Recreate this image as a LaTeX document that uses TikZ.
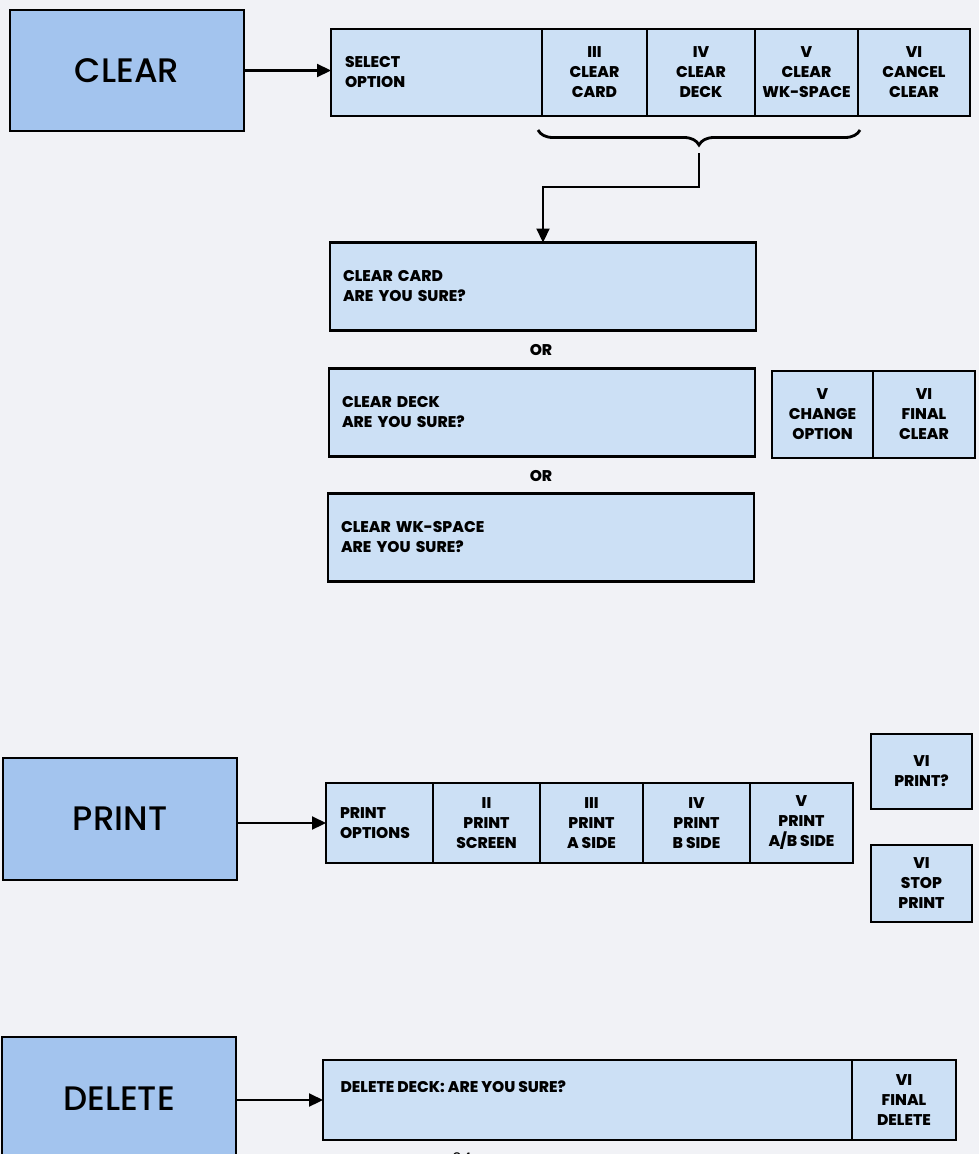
\documentclass[tikz,border=0pt]{standalone}
\usepackage{fontspec}
\setmainfont{Poppins}
\newfontfamily\keyfont{Poppins Medium}
\newfontfamily\cellfont{Poppins ExtraBold}
\usetikzlibrary{positioning,arrows.meta,decorations.pathreplacing}
\definecolor{paper}{RGB}{241,242,246}
\definecolor{keyblue}{RGB}{163,196,238}
\definecolor{cellblue}{RGB}{204,224,245}

\begin{document}
\begin{tikzpicture}[x=1pt, y=1pt,
    keybox/.style={draw, line width=2.6pt, fill=keyblue, minimum width=234pt, inner sep=0pt, outer sep=0pt, font=\keyfont\fontsize{34}{40}\selectfont},
    cell/.style={draw, line width=1.3pt, fill=cellblue, inner sep=0pt, outer sep=0pt, align=center, font=\cellfont\fontsize{15.5}{20}\selectfont},
    leftcell/.style={cell, align=left, inner xsep=14pt},
    qbox/.style={leftcell, line width=2.6pt, text width=400pt, inner xsep=13pt, minimum height=88pt},
    frame/.style={draw, line width=2.6pt},
    arrow/.style={line width=2.2pt, -{Triangle[length=14pt,width=13pt]}},
    ortext/.style={font=\cellfont\fontsize{15.5}{20}\selectfont}]

    % 纸面与边界
    \fill[paper] (0,0) rectangle (979,-1154);
    \useasboundingbox (0,0) rectangle (979,-1154);

    % CLEAR 键与选项条
    \node[keybox, minimum height=121pt] (clear) at (127,-70.5) {CLEAR};
    \node[leftcell, text width=183pt, minimum height=87pt, anchor=north west] (sel0) at (331,-29) {SELECT\\OPTION};
    \node[cell, minimum width=105pt, minimum height=87pt, right=0pt of sel0] (sel3) {III\\CLEAR\\CARD};
    \node[cell, minimum width=108pt, minimum height=87pt, right=0pt of sel3] (sel4) {IV\\CLEAR\\DECK};
    \node[cell, minimum width=103pt, minimum height=87pt, right=0pt of sel4] (sel5) {V\\CLEAR\\WK-SPACE};
    \node[cell, minimum width=112pt, minimum height=87pt, right=0pt of sel5] (sel6) {VI\\CANCEL\\CLEAR};
    \draw[frame] (sel0.north west) rectangle (sel6.south east);
    \draw[arrow] (clear.east) -- (clear.east -| sel0.west);

    % 大括号与下行箭头
    \draw[decorate, decoration={brace, mirror, amplitude=15pt}, line width=2.8pt]
        ([xshift=-4pt, yshift=-14pt]sel3.south west) -- ([xshift=2pt, yshift=-14pt]sel5.south east);
    \coordinate (bracetip) at (699,-153);

    % 三个确认框
    \node[qbox] (cardq) at (543,-286.5) {CLEAR CARD\\ARE YOU SURE?};
    \node[ortext] (or1) at (541,-350) {OR};
    \node[qbox] (deckq) at (542,-412.5) {CLEAR DECK\\ARE YOU SURE?};
    \node[ortext] (or2) at (541,-476) {OR};
    \node[qbox] (spaceq) at (541,-537.5) {CLEAR WK-SPACE\\ARE YOU SURE?};
    \draw[arrow] (bracetip) -- ++(0,-34) -| (cardq.north);

    % V / VI 选项
    \node[cell, minimum width=101pt, minimum height=87pt, anchor=north west] (chg5) at (772,-371) {V\\CHANGE\\OPTION};
    \node[cell, minimum width=102pt, minimum height=87pt, right=0pt of chg5] (fin6) {VI\\FINAL\\CLEAR};
    \draw[frame] (chg5.north west) rectangle (fin6.south east);

    % PRINT 键与选项条
    \node[keybox, minimum height=122pt] (print) at (120,-819) {PRINT};
    \node[leftcell, text width=79pt, minimum height=80pt, anchor=north west] (pr0) at (326,-783) {PRINT\\OPTIONS};
    \node[cell, minimum width=107pt, minimum height=80pt, right=0pt of pr0] (pr2) {II\\PRINT\\SCREEN};
    \node[cell, minimum width=103pt, minimum height=80pt, right=0pt of pr2] (pr3) {III\\PRINT\\A SIDE};
    \node[cell, minimum width=107pt, minimum height=80pt, right=0pt of pr3] (pr4) {IV\\PRINT\\B SIDE};
    \node[cell, minimum width=103pt, minimum height=80pt, right=0pt of pr4] (pr5) {V\\PRINT\\A/B SIDE};
    \draw[frame] (pr0.north west) rectangle (pr5.south east);
    \draw[arrow] (print.east |- pr0.west) -- (pr0.west);

    % 打印中的两个框
    \node[cell, line width=2.6pt, minimum width=101pt, minimum height=75pt] (prq) at (921.5,-771.5) {VI\\PRINT?};
    \node[cell, line width=2.6pt, minimum width=101pt, minimum height=77pt] (stop) at (921.5,-883.5) {VI\\STOP\\PRINT};

    % DELETE 键与确认条
    \node[keybox, minimum height=124pt] (delete) at (119,-1099) {DELETE};
    \node[cell, minimum width=529pt, minimum height=80pt, anchor=north west] (del0) at (323,-1060) {};
    \node[cell, minimum width=104pt, minimum height=80pt, right=0pt of del0] (del6) {VI\\FINAL\\DELETE};
    \draw[frame] (del0.north west) rectangle (del6.south east);
    \node[ortext, anchor=west] (delq) at ([shift={(14pt,13pt)}]del0.west) {DELETE DECK: ARE YOU SURE?};
    \draw[arrow] (delete.east |- del0.west) -- (del0.west);

    % 页码(被裁去一半)
    \node[font=\fontsize{16}{18}\selectfont, anchor=north] (page) at (462,-1149) {24};

\end{tikzpicture}
\end{document}
